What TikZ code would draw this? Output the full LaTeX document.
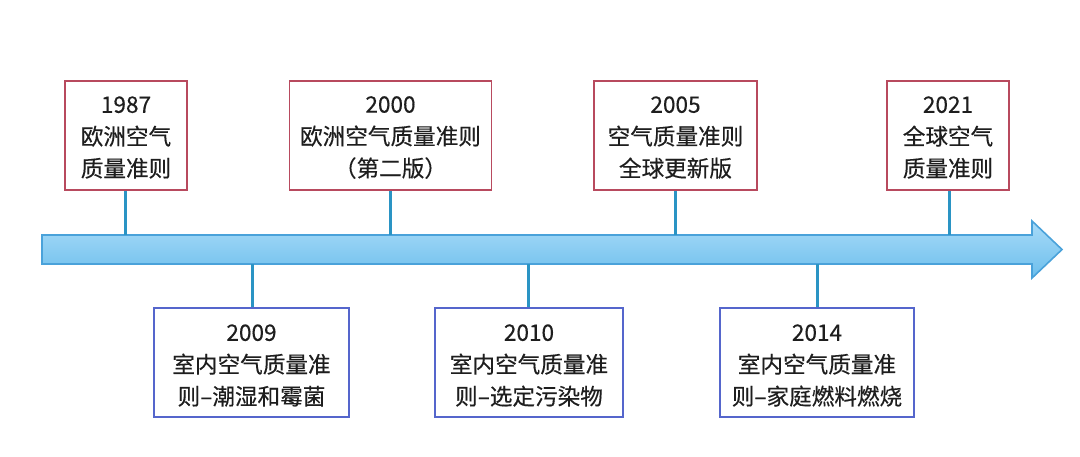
\documentclass[tikz,border=0pt]{standalone}
\usepackage{fontspec}
\setmainfont{Noto Sans CJK SC}[FakeBold=0.35]
\begin{document}
\begin{tikzpicture}[x=0.5pt,y=-0.5pt,
  boxtext/.style={font=\fontsize{11.3}{16}\selectfont,text=textc,align=center,inner sep=0pt},
  redbox/.style={draw=boxred,line width=0.8pt,fill=white,inner sep=0pt,minimum height=54.5pt},
  bluebox/.style={draw=boxblue,line width=0.8pt,fill=white,inner sep=0pt,minimum height=54.5pt},
  link/.style={draw=linkc,line width=1.5pt}]
\definecolor{boxred}{HTML}{B84A5E}
\definecolor{boxblue}{HTML}{5566CC}
\definecolor{linkc}{HTML}{2A94C4}
\definecolor{textc}{HTML}{1E1E1E}
\definecolor{arrtop}{HTML}{A8DBF8}
\definecolor{arrbot}{HTML}{6CBEEC}
\definecolor{arrline}{HTML}{4AA2DA}
\useasboundingbox (0,0) rectangle (1080,456);
% arrow
\draw[arrline,line width=0.8pt,top color=arrtop,bottom color=arrbot]
  (42,235) -- (1032,235) -- (1032,221) -- (1062,249.5) -- (1032,278) -- (1032,264) -- (42,264) -- cycle;
\coordinate (t1) at (125,235);
\coordinate (t2) at (390,235);
\coordinate (t3) at (675,235);
\coordinate (t4) at (949,235);
\coordinate (b1) at (252,264);
\coordinate (b2) at (528,264);
\coordinate (b3) at (817,264);
% top boxes
\node[redbox,minimum width=61pt,label={[boxtext,yshift=-1pt]center:1987\\欧洲空气\\质量准则}] (n1987) at (126,135.5) {};
\node[redbox,minimum width=101pt,label={[boxtext,yshift=-1pt]center:2000\\欧洲空气质量准则\\（第二版）}] (n2000) at (390.5,135.5) {};
\node[redbox,minimum width=81.5pt,label={[boxtext,yshift=-1pt]center:2005\\空气质量准则\\全球更新版}] (n2005) at (675.5,135.5) {};
\node[redbox,minimum width=61pt,label={[boxtext,yshift=-1pt]center:2021\\全球空气\\质量准则}] (n2021) at (948,135.5) {};
% bottom boxes
\node[bluebox,minimum width=97.5pt,label={[boxtext,yshift=-1.5pt]center:2009\\室内空气质量准\\则–潮湿和霉菌}] (n2009) at (251.5,362.5) {};
\node[bluebox,minimum width=94pt,label={[boxtext,yshift=-1.5pt]center:2010\\室内空气质量准\\则–选定污染物}] (n2010) at (529,362.5) {};
\node[bluebox,minimum width=97pt,label={[boxtext,yshift=-1.5pt]center:2014\\室内空气质量准\\则–家庭燃料燃烧}] (n2014) at (817,362.5) {};
% connectors
\draw[link] (n1987.south -| t1) -- (t1);
\draw[link] (n2000.south -| t2) -- (t2);
\draw[link] (n2005.south -| t3) -- (t3);
\draw[link] (n2021.south -| t4) -- (t4);
\draw[link] (b1) -- (n2009.north -| b1);
\draw[link] (b2) -- (n2010.north -| b2);
\draw[link] (b3) -- (n2014.north -| b3);
\end{tikzpicture}
\end{document}
